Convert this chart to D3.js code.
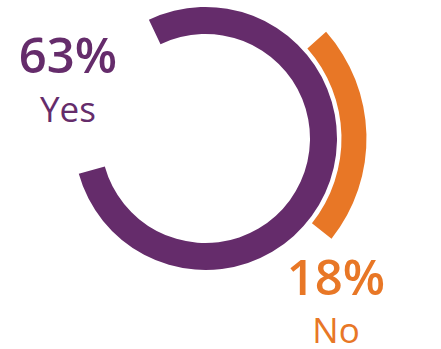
<!DOCTYPE html>
<html>
<head>
<meta charset="utf-8">
<script src="https://cdn.jsdelivr.net/npm/d3@7"></script>
<style>
	body { margin: 0; background: #fff; }
	svg { display: block; }
</style>
</head>
<body>
<div id="chart"></div>
<script>
// answers and their share
const labels = ["Yes", "No"];
const values = [63, 18];
const colors = ["#652c6b", "#e87726"];

const width = 441, height = 349;
const cx = 205.5, cy = 138.5;

const svg = d3.select("#chart").append("svg")
	.attr("width", width)
	.attr("height", height);

const g = svg.append("g")
	.attr("transform", `translate(${cx},${cy})`);

// angles are taken over the sum of the answers, not over 100
const total = d3.sum(values);
const angle = d3.scaleLinear().domain([0, total]).range([0, 2 * Math.PI]);
const deg = Math.PI / 180;

// each ring sits on its own radius and has its own start
const rings = [
	{ inner: 104.5, outer: 131.5, start: -25.5 * deg },
	{ inner: 136, outer: 161, start: 48.5 * deg }
];

const arc = d3.arc();

g.selectAll("path")
	.data(values)
	.enter().append("path")
	.attr("fill", (d, i) => colors[i])
	.attr("d", (d, i) => arc({
		innerRadius: rings[i].inner,
		outerRadius: rings[i].outer,
		startAngle: rings[i].start,
		endAngle: rings[i].start + angle(d)
	}));

// labels
const labelPos = [
	{ x: 68, y: 73, y2: 122 },
	{ x: 336, y: 295, y2: 343 }
];

const lab = svg.selectAll("g.label")
	.data(values)
	.enter().append("g")
	.attr("class", "label")
	.attr("fill", (d, i) => colors[i])
	.attr("font-family", "'Open Sans', sans-serif")
	.attr("text-anchor", "middle");

lab.append("text")
	.attr("x", (d, i) => labelPos[i].x)
	.attr("y", (d, i) => labelPos[i].y)
	.attr("font-size", 49)
	.attr("font-weight", 600)
	.text(d => `${d}%`);

lab.append("text")
	.attr("x", (d, i) => labelPos[i].x)
	.attr("y", (d, i) => labelPos[i].y2)
	.attr("font-size", 35)
	.text((d, i) => labels[i]);
</script>
</body>
</html>
